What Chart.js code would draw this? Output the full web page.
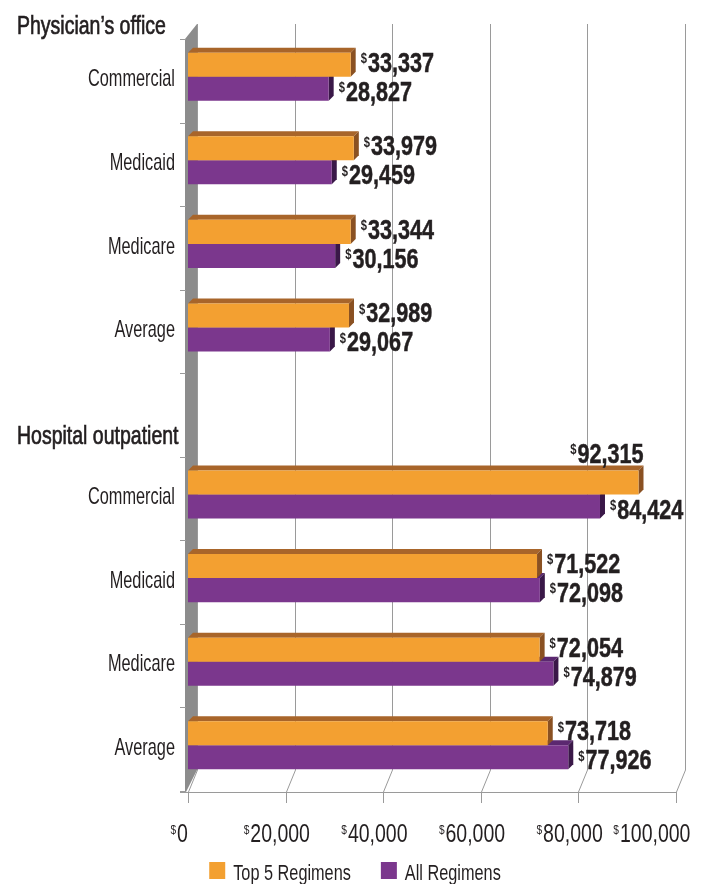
<!DOCTYPE html>
<html>
<head>
<meta charset="utf-8">
<script src="https://cdn.jsdelivr.net/npm/chart.js@4/dist/chart.umd.min.js"></script>
<style>
  body { margin: 0; background: #fff; }
  #wrap { width: 702px; height: 884px; }
</style>
</head>
<body>
<div id="wrap"><canvas id="chart" width="702" height="884"></canvas></div>
<script>
// data
const categories = ['Commercial', 'Medicaid', 'Medicare', 'Average', '', 'Commercial', 'Medicaid', 'Medicare', 'Average'];
const groupNames = ["Physician\u2019s office", 'Hospital outpatient'];
const groupStart = [0, 5];
const top5Regimens = [33337, 33979, 33344, 32989, null, 92315, 71522, 72054, 73718];
const allRegimens = [28827, 29459, 30156, 29067, null, 84424, 72098, 74879, 77926];
const xTickLabels = ['0', '20,000', '40,000', '60,000', '80,000', '100,000'];

// Liberation Sans squeezed sideways to get the condensed look of the original
const FONT = "'Liberation Sans', Arial, sans-serif";
const TEXT = '#231f20';
const DEPTH = 5;   // 3d side/top face depth
const LIFT = 4;    // bars sit a little up from the front plane

const faces = [
  { top: '#a8652a', side: '#8a5122' },
  { top: '#5b2870', side: '#3a1848' }
];

function textWidth(ctx, str, font, sx) {
  ctx.font = font;
  return ctx.measureText(str).width * sx;
}

function squeezed(ctx, str, x, y, font, sx, align, stroke) {
  ctx.save();
  ctx.font = font;
  ctx.textAlign = align || 'left';
  ctx.translate(x, y);
  ctx.scale(sx, 1);
  ctx.fillText(str, 0, 0);
  if (stroke) {
    ctx.lineWidth = stroke;
    ctx.strokeStyle = ctx.fillStyle;
    ctx.strokeText(str, 0, 0);
  }
  ctx.restore();
}

// "$" small and raised, then the number
function money(ctx, str, x, baseline, size, bold, sx, alignRight, stroke) {
  const w = bold ? 'bold ' : '';
  const fs = w + Math.round(size * 0.5) + 'px ' + FONT;
  const fn = w + size + 'px ' + FONT;
  const dw = textWidth(ctx, '$', fs, sx);
  const nw = textWidth(ctx, str, fn, sx);
  const start = alignRight ? x - dw - nw - 1 : x;
  ctx.textBaseline = 'alphabetic';
  squeezed(ctx, '$', start, baseline - size * 0.32, fs, sx);
  squeezed(ctx, str, start + dw + 1, baseline, fn, sx, 'left', stroke);
  return dw + nw + 1;
}

const decor = {
  id: 'decor',
  beforeDatasetsDraw(chart) {
    const ctx = chart.ctx;
    const xs = chart.scales.x;
    const ys = chart.scales.y;
    const backTop = ys.top - 15;
    const backBottom = ys.bottom - 21;
    const floorY = ys.bottom + 1;
    const slot = (ys.bottom - ys.top) / categories.length;

    ctx.save();
    // back grid lines with their slant down to the floor
    ctx.strokeStyle = '#9a9a9a';
    ctx.lineWidth = 1;
    xs.ticks.forEach(t => {
      const xf = Math.round(xs.getPixelForValue(t.value)) + 0.5;
      const xb = xf + 9;
      ctx.beginPath();
      ctx.moveTo(xb, backTop);
      ctx.lineTo(xb, backBottom);
      ctx.lineTo(xf, floorY);
      ctx.lineTo(xf, floorY + 11);
      ctx.stroke();
    });
    ctx.beginPath();
    ctx.moveTo(ys.right - 8, floorY + 0.5);
    ctx.lineTo(xs.right, floorY + 0.5);
    ctx.stroke();

    // left wall
    const l = ys.right;
    ctx.fillStyle = '#8c8c8c';
    ctx.beginPath();
    ctx.moveTo(l - 3, ys.top);
    ctx.lineTo(l + 9, backTop);
    ctx.lineTo(l + 9, backBottom);
    ctx.lineTo(l - 2, floorY);
    ctx.lineTo(l - 3, floorY);
    ctx.closePath();
    ctx.fill();

    // category ticks on the wall
    for (let i = 0; i <= categories.length; i++) {
      const y = Math.round(ys.top + i * slot) + 0.5;
      ctx.beginPath();
      ctx.moveTo(l - 8, y);
      ctx.lineTo(l - 2, y);
      ctx.stroke();
    }

    ctx.fillStyle = TEXT;
    // x tick labels
    xs.ticks.forEach(t => {
      const x = xs.getPixelForValue(t.value) - 9;
      const w = textWidth(ctx, '$', '12px ' + FONT, 0.78) + textWidth(ctx, t.label, '25px ' + FONT, 0.78) + 1;
      let start = x - w / 2;
      if (start + w > chart.width - 12) start = chart.width - 12 - w;
      money(ctx, t.label, start, floorY + 50, 25, false, 0.78, false);
    });

    // category labels
    ys.ticks.forEach((t, i) => {
      const lab = ys.getLabelForValue(t.value);
      if (!lab) return;
      ctx.textBaseline = 'middle';
      squeezed(ctx, lab, ys.right - 13, ys.getPixelForTick(i) - 1, '24px ' + FONT, 0.68, 'right');
    });

    // group headings
    ctx.textBaseline = 'alphabetic';
    groupNames.forEach((g, i) => {
      const y = groupStart[i] === 0 ? ys.top - 5 : ys.top + groupStart[i] * slot - 13;
      squeezed(ctx, g, 17, y, '26px ' + FONT, 0.75, 'left', 0.7);
    });
    ctx.restore();

    // 3d faces behind the bar fronts
    ctx.save();
    ctx.translate(0, -LIFT);
    for (let d = chart.data.datasets.length - 1; d >= 0; d--) {
      chart.getDatasetMeta(d).data.forEach((bar, i) => {
        if (chart.data.datasets[d].data[i] == null) return;
        const top = bar.y - bar.height / 2;
        const bottom = bar.y + bar.height / 2;
        ctx.fillStyle = faces[d].top;
        ctx.beginPath();
        ctx.moveTo(bar.base, top);
        ctx.lineTo(bar.base + DEPTH, top - DEPTH);
        ctx.lineTo(bar.x + DEPTH, top - DEPTH);
        ctx.lineTo(bar.x, top);
        ctx.closePath();
        ctx.fill();
        ctx.fillStyle = faces[d].side;
        ctx.beginPath();
        ctx.moveTo(bar.x, top);
        ctx.lineTo(bar.x + DEPTH, top - DEPTH);
        ctx.lineTo(bar.x + DEPTH, bottom - DEPTH);
        ctx.lineTo(bar.x, bottom);
        ctx.closePath();
        ctx.fill();
      });
    }
  },
  afterDatasetsDraw(chart) {
    const ctx = chart.ctx;
    ctx.fillStyle = TEXT;
    const SIZE = 27, SX = 0.8;
    chart.data.datasets.forEach((ds, d) => {
      chart.getDatasetMeta(d).data.forEach((bar, i) => {
        const v = ds.data[i];
        if (v == null) return;
        const str = v.toLocaleString('en-US');
        const top = bar.y - bar.height / 2;
        const bottom = bar.y + bar.height / 2;
        const need = textWidth(ctx, '$', 'bold 13px ' + FONT, SX) + textWidth(ctx, str, 'bold ' + SIZE + 'px ' + FONT, SX) + 1;
        const x = bar.x + 10;
        if (x + need > chart.width - 4) {
          money(ctx, str, bar.x + DEPTH, top - DEPTH - 3, SIZE, true, SX, true, 0.5);
        } else {
          const baseline = d === 0 ? bottom - 5 : bottom;
          money(ctx, str, x, baseline, SIZE, true, SX, false, 0.5);
        }
      });
    });
    ctx.restore();
  },
  afterDraw(chart) {
    // legend
    const ctx = chart.ctx;
    ctx.save();
    const lf = '22px ' + FONT, lsx = 0.74;
    const items = chart.data.datasets.map(ds => ({ label: ds.label, color: ds.backgroundColor, w: textWidth(ctx, ds.label, lf, lsx) }));
    const gap = 30;
    let total = 0;
    items.forEach((it, i) => { total += 16 + 8 + it.w + (i ? gap : 0); });
    let x = chart.width / 2 + 4 - total / 2;
    items.forEach(it => {
      ctx.fillStyle = it.color;
      ctx.fillRect(x, 862, 16, 17);
      ctx.fillStyle = TEXT;
      ctx.textBaseline = 'alphabetic';
      squeezed(ctx, it.label, x + 24, 880, lf, lsx);
      x += 16 + 8 + it.w + gap;
    });
    ctx.restore();
  }
};

new Chart(document.getElementById('chart'), {
  type: 'bar',
  data: {
    labels: categories,
    datasets: [
      { label: 'Top 5 Regimens', data: top5Regimens, backgroundColor: '#f3a031' },
      { label: 'All Regimens', data: allRegimens, backgroundColor: '#7b378d' }
    ]
  },
  options: {
    indexAxis: 'y',
    responsive: false,
    animation: false,
    devicePixelRatio: 1,
    layout: { padding: { top: 39, right: 26, left: 0, bottom: 0 } },
    datasets: { bar: { categoryPercentage: 0.575, barPercentage: 1, borderWidth: 0 } },
    scales: {
      x: {
        min: 0,
        max: 100000,
        ticks: { stepSize: 20000, display: false, callback: (v, i) => xTickLabels[i] },
        grid: { display: false },
        border: { display: false },
        afterFit: s => { s.height = 93; }
      },
      y: {
        ticks: { display: false },
        grid: { display: false, drawTicks: false },
        border: { display: false },
        afterFit: s => { s.width = 188; }
      }
    },
    plugins: {
      legend: { display: false },
      tooltip: { enabled: false }
    }
  },
  plugins: [decor]
});
</script>
</body>
</html>
